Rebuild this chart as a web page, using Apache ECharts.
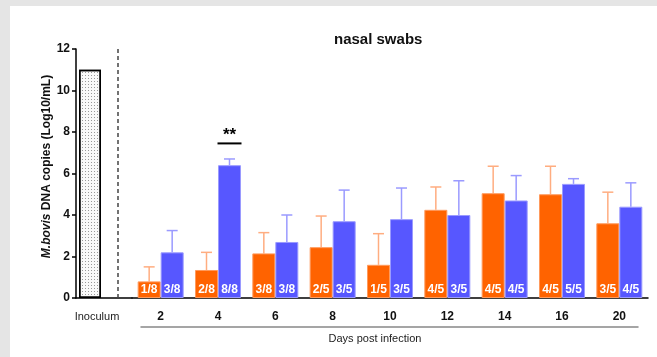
<!DOCTYPE html>
<html>
<head>
<meta charset="utf-8">
<script src="https://cdn.jsdelivr.net/npm/echarts@6/dist/echarts.min.js"></script>
<style>
html,body{margin:0;padding:0;background:#fff;width:657px;height:357px;overflow:hidden;}
#topbar{position:absolute;left:0;top:0;width:657px;height:6px;background:#e5e5e5;}
#leftbar{position:absolute;left:0;top:0;width:10px;height:357px;background:#e5e5e5;}
#main{position:absolute;left:10px;top:6px;width:647px;height:351px;background:#fff;}
</style>
</head>
<body>
<div id="topbar"></div>
<div id="leftbar"></div>
<div id="main"></div>
<script>
// ---- data ----
const titleText = 'nasal swabs';
const inoculumCats = ['Inoculum', ''];
const inoculumValue = [11, '-'];
const dayCats = ['2', '4', '6', '8', '10', '12', '14', '16', '20'];
const orangeMean = [0.8, 1.35, 2.15, 2.45, 1.6, 4.25, 5.05, 5.0, 3.6];
const orangeSD   = [0.7, 0.85, 1.0, 1.5, 1.5, 1.1, 1.3, 1.35, 1.5];
const blueMean   = [2.2, 6.4, 2.7, 3.7, 3.8, 4.0, 4.7, 5.5, 4.4];
const blueSD     = [1.05, 0.3, 1.3, 1.5, 1.5, 1.65, 1.2, 0.25, 1.15];
const orangeFrac = ['1/8', '2/8', '3/8', '2/5', '1/5', '4/5', '4/5', '4/5', '3/5'];
const blueFrac   = ['3/8', '8/8', '3/8', '3/5', '3/5', '3/5', '4/5', '5/5', '4/5'];
const yTicks = [0, 2, 4, 6, 8, 10, 12];
const sigDay = '4';
const sigLevel = 7.45;
const sigText = '**';
const xTitle = 'Days post infection';

// ---- style ----
const FONT = "'Liberation Sans', Arial, sans-serif";
const ORANGE = '#ff6300', BLUE = '#5757ff';
const ORANGE_ERR = '#ffad80', BLUE_ERR = '#9a9aff';
const BAR_W = 23;

const chart = echarts.init(document.getElementById('main'), null, {renderer: 'canvas'});

function errSeries(mean, sd, color, dir) {
  return {
    type: 'custom',
    xAxisIndex: 1, yAxisIndex: 1,
    z: 1,
    data: mean.map((m, i) => [i, m, sd[i]]),
    encode: {x: 0, y: 1},
    renderItem: function (params, api) {
      const base = api.coord([api.value(0), api.value(1)]);
      const top = api.coord([api.value(0), api.value(1) + api.value(2)]);
      const x = base[0] + dir * BAR_W / 2;
      const st = {stroke: color, lineWidth: 1.5};
      return {type: 'group', children: [
        {type: 'line', shape: {x1: x, y1: base[1], x2: x, y2: top[1]}, style: st},
        {type: 'line', shape: {x1: x - 5.5, y1: top[1], x2: x + 5.5, y2: top[1]}, style: st}
      ]};
    }
  };
}

const barLabel = (arr) => ({
  show: true, position: 'insideBottom', distance: 2,
  formatter: p => arr[p.dataIndex],
  color: '#fff', fontWeight: 'bold', fontSize: 12, fontFamily: FONT
});

const yMin = yTicks[0], yMax = yTicks[yTicks.length - 1], yInt = yTicks[1] - yTicks[0];

chart.setOption({
  animation: false,
  title: {
    text: titleText, left: 319, top: 21,
    textStyle: {fontFamily: FONT, fontWeight: 'bold', fontSize: 15, color: '#111'}
  },
  grid: [
    {left: 66, width: 56, top: 43, bottom: 59},
    {left: 122, right: 9, top: 43, bottom: 59},
    {left: 131, right: 19, top: 320, bottom: 30}
  ],
  xAxis: [
    {
      type: 'category', gridIndex: 0, data: inoculumCats,
      axisLine: {lineStyle: {color: '#000', width: 1.5}},
      axisTick: {show: false},
      axisLabel: {fontFamily: FONT, fontSize: 11, color: '#222', margin: 13, padding: [0, 0, 0, 14]}
    },
    {
      type: 'category', gridIndex: 1, data: dayCats,
      axisLine: {lineStyle: {color: '#000', width: 1.5}},
      axisTick: {show: false},
      axisLabel: {fontFamily: FONT, fontSize: 12, fontWeight: 'bold', color: '#111', margin: 13}
    },
    {
      type: 'category', gridIndex: 2, data: [''],
      axisLine: {lineStyle: {color: '#888', width: 1.5}},
      axisTick: {show: false}, axisLabel: {show: false},
      name: xTitle, nameLocation: 'middle', nameGap: 6,
      nameTextStyle: {fontFamily: FONT, fontSize: 11, color: '#222', padding: [0, 29, 0, 0]}
    }
  ],
  yAxis: [
    {
      type: 'value', gridIndex: 0, min: yMin, max: yMax, interval: yInt,
      axisLine: {show: true, lineStyle: {color: '#000', width: 1.5}},
      axisTick: {show: true, length: 4, lineStyle: {color: '#000', width: 1.5}},
      splitLine: {show: false},
      axisLabel: {fontFamily: FONT, fontSize: 12, fontWeight: 'bold', color: '#111', margin: 6},
      name: '{i|M.bovis} DNA copies (Log10/mL)',
      nameLocation: 'middle', nameGap: 22, nameRotate: 90,
      nameTextStyle: {
        fontFamily: FONT, fontSize: 12, fontWeight: 'bold', color: '#111',
        padding: [0, 0, 0, 14],
        rich: {i: {fontFamily: FONT, fontSize: 12, fontWeight: 'bold', fontStyle: 'italic', color: '#111'}}
      }
    },
    {type: 'value', gridIndex: 1, min: yMin, max: yMax, interval: yInt, show: false},
    {type: 'value', gridIndex: 2, show: false}
  ],
  series: [
    {
      type: 'bar', xAxisIndex: 0, yAxisIndex: 0, data: inoculumValue, barWidth: 22,
      itemStyle: {
        color: '#fafafa', borderColor: '#000', borderWidth: 1.5,
        decal: {symbol: 'rect', symbolSize: 1, dashArrayX: [1, 2], dashArrayY: [1, 2], color: '#9a9a9a'}
      },
      markLine: {
        silent: true, symbol: 'none', label: {show: false},
        lineStyle: {color: '#444', type: [4, 3], width: 1.5},
        data: [{xAxis: 1}]
      }
    },
    {
      type: 'bar', xAxisIndex: 1, yAxisIndex: 1, data: orangeMean, barWidth: BAR_W, barGap: '0%', z: 2,
      itemStyle: {color: ORANGE, borderColor: '#ff9a5c', borderWidth: 1},
      label: barLabel(orangeFrac)
    },
    {
      type: 'bar', xAxisIndex: 1, yAxisIndex: 1, data: blueMean, barWidth: BAR_W, barGap: '0%', z: 2,
      itemStyle: {color: BLUE, borderColor: '#9a9aff', borderWidth: 1},
      label: barLabel(blueFrac),
      markPoint: {
        symbol: 'rect', symbolSize: [24, 2],
        itemStyle: {color: '#000'},
        label: {show: true, position: 'top', distance: -1, formatter: sigText,
                color: '#000', fontSize: 17, fontWeight: 'bold', fontFamily: FONT},
        data: [{coord: [sigDay, sigLevel]}]
      }
    },
    errSeries(orangeMean, orangeSD, ORANGE_ERR, -1),
    errSeries(blueMean, blueSD, BLUE_ERR, 1)
  ]
});
</script>
</body>
</html>
